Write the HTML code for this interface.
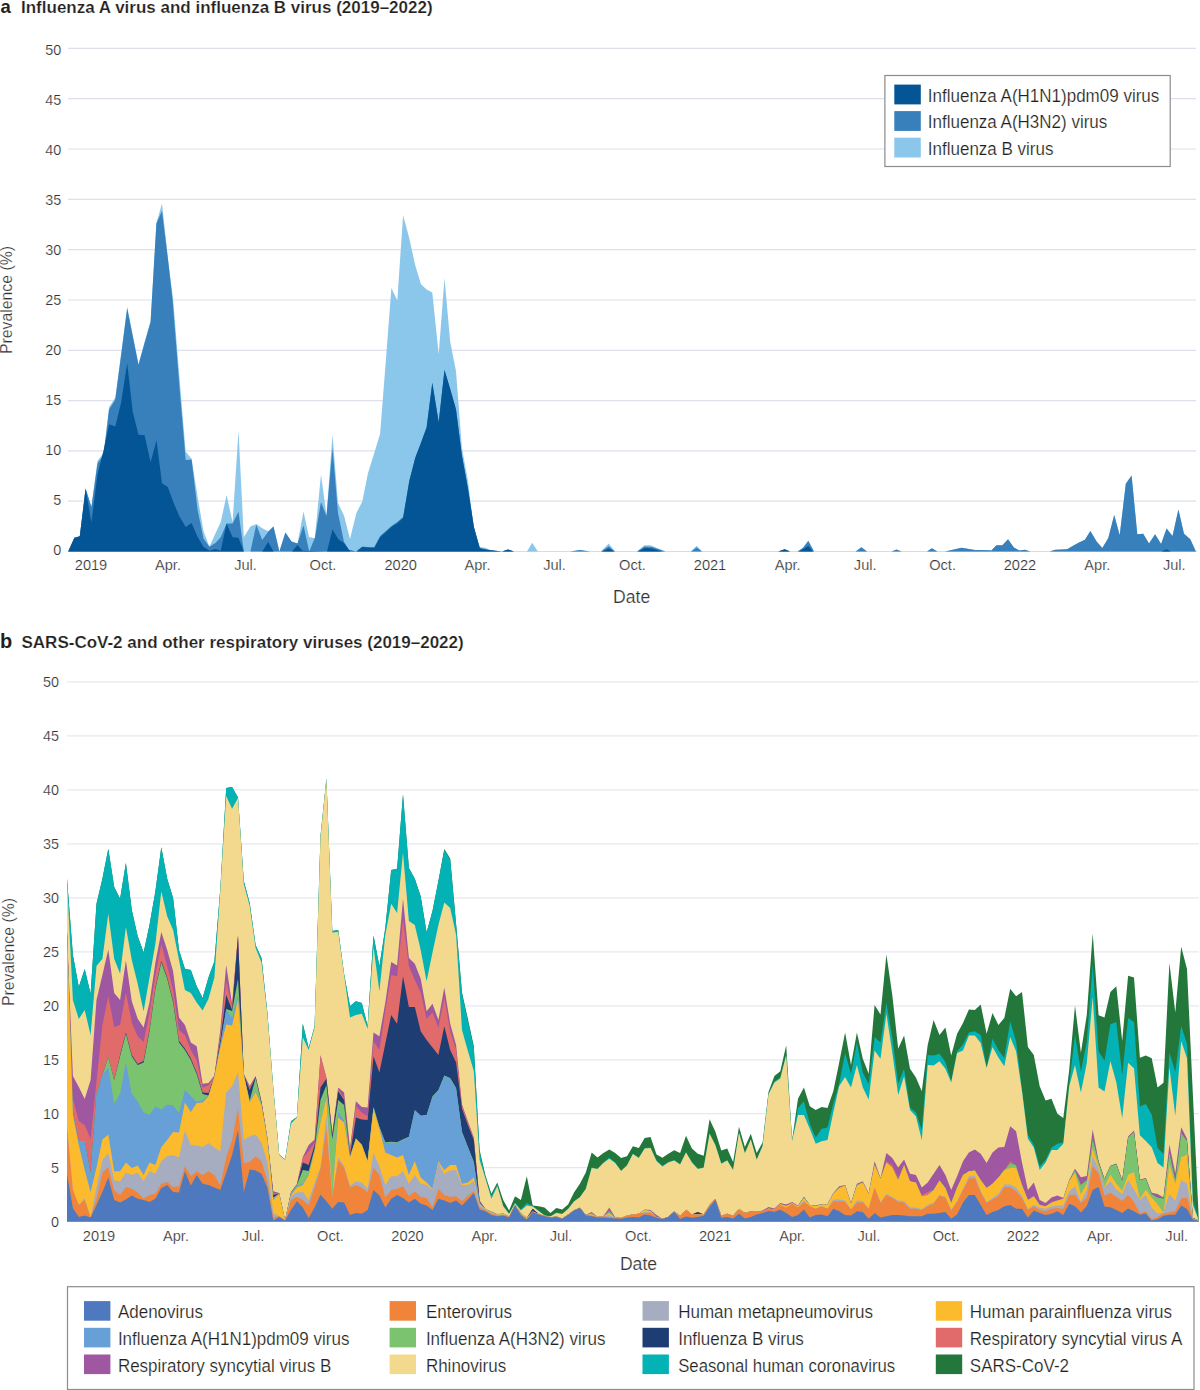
<!DOCTYPE html><html><head><meta charset="utf-8"><style>
html,body{margin:0;padding:0;background:#fff;width:1200px;height:1390px;overflow:hidden}
body{position:relative;font-family:"Liberation Sans", sans-serif;color:#231f20}
.t{position:absolute;white-space:nowrap;line-height:1}
svg{position:absolute;left:0;top:0}
text.r{stroke:#fff;stroke-width:0.2px;paint-order:fill stroke}
</style></head><body>
<svg width="1200" height="1390" viewBox="0 0 1200 1390">
<line x1="68" y1="501.2" x2="1196" y2="501.2" stroke="#dde0eb" stroke-width="1.2"/>
<line x1="68" y1="450.9" x2="1196" y2="450.9" stroke="#dde0eb" stroke-width="1.2"/>
<line x1="68" y1="400.6" x2="1196" y2="400.6" stroke="#dde0eb" stroke-width="1.2"/>
<line x1="68" y1="350.3" x2="1196" y2="350.3" stroke="#dde0eb" stroke-width="1.2"/>
<line x1="68" y1="300.0" x2="1196" y2="300.0" stroke="#dde0eb" stroke-width="1.2"/>
<line x1="68" y1="249.7" x2="1196" y2="249.7" stroke="#dde0eb" stroke-width="1.2"/>
<line x1="68" y1="199.3" x2="1196" y2="199.3" stroke="#dde0eb" stroke-width="1.2"/>
<line x1="68" y1="149.0" x2="1196" y2="149.0" stroke="#dde0eb" stroke-width="1.2"/>
<line x1="68" y1="98.7" x2="1196" y2="98.7" stroke="#dde0eb" stroke-width="1.2"/>
<line x1="68" y1="48.4" x2="1196" y2="48.4" stroke="#dde0eb" stroke-width="1.2"/>
<line x1="68" y1="551.5" x2="1197" y2="551.5" stroke="#d3deea" stroke-width="1.2"/>
<polygon points="68.2,551.6 68.2,551.6 74.4,537.8 79.8,536.2 85.6,488.4 91.4,507.0 97.5,461.0 103.7,452.6 109.1,407.0 115.3,397.5 121.3,352.0 127.2,307.0 132.7,335.0 138.5,364.0 144.6,342.0 150.6,321.0 156.4,223.0 162.0,203.4 167.8,257.0 173.2,300.0 180.5,390.0 185.7,451.7 191.6,458.8 197.6,496.8 203.5,531.2 209.4,546.7 215.4,533.6 220.7,522.3 226.6,495.0 232.6,522.3 238.5,430.4 243.8,537.2 250.4,526.5 256.3,524.1 262.2,528.3 268.2,531.2 273.5,526.5 279.4,551.6 285.4,532.4 291.5,541.5 297.5,543.5 303.5,511.5 309.0,537.0 314.8,538.2 321.0,474.5 326.5,515.0 332.5,434.5 338.0,503.0 344.0,515.5 350.0,539.0 356.4,513.0 362.3,501.6 367.9,473.4 374.3,453.0 380.1,433.8 385.8,361.0 391.4,288.1 397.3,300.4 403.1,215.3 409.3,238.3 415.2,265.2 421.0,284.3 426.6,289.4 432.3,292.5 438.7,354.6 444.5,277.9 450.2,341.8 456.0,371.2 461.9,447.8 468.0,481.0 473.9,529.6 479.8,546.9 485.4,547.8 490.0,549.9 502.0,551.6 508.0,549.5 514.0,551.6 527.0,551.6 532.2,542.8 537.8,551.6 570.0,551.6 580.0,550.0 590.0,551.6 601.0,551.6 608.7,543.5 615.0,551.6 637.0,551.6 644.5,545.2 650.5,545.2 665.5,551.6 691.0,551.6 696.7,545.8 702.0,551.6 779.0,551.6 784.7,549.2 790.0,551.6 797.5,551.6 803.0,547.5 808.3,540.5 814.0,551.6 855.7,551.6 861.4,547.3 867.0,551.6 891.7,551.6 896.5,549.5 901.5,551.6 927.0,551.6 931.8,548.2 937.5,551.6 945.0,551.6 961.5,547.7 975.0,550.0 990.0,550.2 991.0,550.8 996.5,545.3 1002.4,545.3 1008.0,539.2 1013.9,547.6 1019.4,550.4 1024.9,549.8 1030.4,551.6 1049.7,551.6 1055.2,549.8 1067.1,549.3 1073.5,545.6 1079.0,542.5 1084.9,539.8 1090.4,531.1 1096.4,541.2 1102.3,548.0 1108.3,537.9 1114.2,515.0 1119.7,535.2 1125.8,483.8 1131.6,475.6 1137.3,534.3 1143.2,533.7 1149.0,543.4 1155.1,534.3 1161.1,544.0 1166.6,528.4 1172.5,536.1 1178.4,509.5 1184.0,533.7 1190.3,539.2 1195.9,551.6 1195.9,551.6" fill="#8bc7eb"/>
<polygon points="68.2,551.6 68.2,551.6 74.4,537.8 79.8,536.2 85.6,488.4 91.4,507.0 97.5,463.6 103.7,454.4 109.1,409.5 115.3,399.5 121.3,354.0 127.2,308.2 132.7,336.0 138.5,365.1 144.6,343.0 150.6,322.0 156.4,223.6 162.0,211.0 167.8,258.0 172.6,300.0 179.7,390.0 185.7,460.0 191.6,459.4 197.6,509.9 203.5,538.4 209.4,546.7 215.4,543.1 220.7,537.2 226.6,523.5 232.6,523.5 238.5,511.7 243.8,551.6 250.4,551.6 256.3,524.7 262.2,540.1 268.2,531.8 273.5,526.5 279.4,551.6 285.4,532.4 291.5,541.5 297.5,543.5 303.5,525.5 309.2,551.6 315.0,537.5 321.0,502.0 326.5,516.0 332.5,448.0 338.0,513.0 344.0,542.0 350.0,551.6 356.0,551.6 362.3,546.5 367.9,547.0 374.3,547.0 380.1,536.0 385.8,531.0 391.4,526.0 397.3,522.0 403.1,517.0 409.3,481.0 415.2,458.0 421.0,442.7 426.6,427.4 432.3,382.7 438.7,422.3 444.5,369.9 450.2,389.0 456.0,409.5 461.9,455.5 468.0,488.7 473.9,527.0 479.8,548.0 485.4,549.3 492.0,550.3 502.0,551.6 508.0,549.5 514.0,551.6 570.0,551.6 580.0,550.0 590.0,551.6 601.0,551.6 608.7,546.2 615.0,551.6 637.0,551.6 644.5,546.5 652.0,547.0 665.5,551.6 691.0,551.6 696.7,547.5 702.0,551.6 779.0,551.6 784.7,549.2 790.0,551.6 797.5,551.6 803.0,548.0 808.3,541.0 814.0,551.6 855.7,551.6 861.4,547.3 867.0,551.6 891.7,551.6 896.5,549.5 901.5,551.6 927.0,551.6 931.8,548.2 937.5,551.6 945.0,551.6 961.5,547.7 975.0,550.0 990.0,550.2 991.0,550.8 996.5,545.3 1002.4,545.3 1008.0,539.2 1013.9,547.6 1019.4,550.4 1024.9,549.8 1030.4,551.6 1049.7,551.6 1055.2,549.8 1067.1,549.3 1073.5,545.6 1079.0,542.5 1084.9,539.8 1090.4,531.1 1096.4,541.2 1102.3,548.0 1108.3,537.9 1114.2,515.0 1119.7,535.2 1125.8,483.8 1131.6,475.6 1137.3,534.3 1143.2,533.7 1149.0,543.4 1155.1,534.3 1161.1,544.0 1166.6,528.4 1172.5,536.1 1178.4,509.5 1184.0,533.7 1190.3,539.2 1195.9,551.6 1195.9,551.6" fill="#3780bc"/>
<polygon points="68.2,551.6 68.2,551.6 74.4,537.8 79.8,536.2 85.6,488.4 91.4,522.4 97.5,474.4 103.7,449.7 109.1,424.2 115.3,426.5 121.0,403.0 127.2,363.2 132.7,411.8 138.5,434.7 144.6,435.2 150.6,462.2 156.5,440.2 162.0,483.3 167.8,486.9 173.7,503.0 179.4,516.2 185.7,527.1 191.6,523.0 197.6,537.0 203.5,546.7 209.4,550.8 215.4,549.0 220.7,550.8 226.6,523.5 232.6,537.2 238.5,537.8 243.8,551.6 262.2,551.6 268.2,541.9 273.5,551.6 290.0,551.6 292.0,551.6 297.5,545.0 302.5,550.8 327.0,551.6 332.5,529.5 338.5,539.5 344.0,543.0 349.0,550.0 356.4,551.6 362.3,547.0 367.9,547.5 374.3,548.0 380.1,537.2 385.8,532.2 391.4,527.0 397.3,523.2 403.1,518.1 409.3,481.0 415.2,458.0 421.0,442.7 426.6,427.4 432.3,382.7 438.7,422.3 444.5,369.9 450.2,389.0 456.0,409.5 461.9,455.5 468.0,488.7 473.9,527.0 479.8,548.2 485.4,549.5 492.0,550.5 502.0,551.6 508.0,549.5 514.0,551.6 602.0,551.6 608.7,548.6 614.0,551.6 638.0,551.6 645.0,548.0 652.0,548.5 662.0,551.6 778.0,551.6 784.7,549.2 790.0,551.6 799.0,551.6 808.3,546.0 813.0,551.6 1161.5,551.6 1166.4,549.3 1170.7,551.6 1197.0,551.6 1197.0,551.6" fill="#035596"/>
<text x="61.2" y="554.6" text-anchor="end" font-family='"Liberation Sans", sans-serif' class="r" font-size="14.4" fill="#333">0</text>
<text x="61.2" y="504.6" text-anchor="end" font-family='"Liberation Sans", sans-serif' class="r" font-size="14.4" fill="#333">5</text>
<text x="61.2" y="454.6" text-anchor="end" font-family='"Liberation Sans", sans-serif' class="r" font-size="14.4" fill="#333">10</text>
<text x="61.2" y="404.6" text-anchor="end" font-family='"Liberation Sans", sans-serif' class="r" font-size="14.4" fill="#333">15</text>
<text x="61.2" y="354.6" text-anchor="end" font-family='"Liberation Sans", sans-serif' class="r" font-size="14.4" fill="#333">20</text>
<text x="61.2" y="304.6" text-anchor="end" font-family='"Liberation Sans", sans-serif' class="r" font-size="14.4" fill="#333">25</text>
<text x="61.2" y="254.6" text-anchor="end" font-family='"Liberation Sans", sans-serif' class="r" font-size="14.4" fill="#333">30</text>
<text x="61.2" y="204.6" text-anchor="end" font-family='"Liberation Sans", sans-serif' class="r" font-size="14.4" fill="#333">35</text>
<text x="61.2" y="154.6" text-anchor="end" font-family='"Liberation Sans", sans-serif' class="r" font-size="14.4" fill="#333">40</text>
<text x="61.2" y="104.6" text-anchor="end" font-family='"Liberation Sans", sans-serif' class="r" font-size="14.4" fill="#333">45</text>
<text x="61.2" y="54.6" text-anchor="end" font-family='"Liberation Sans", sans-serif' class="r" font-size="14.4" fill="#333">50</text>
<rect x="884.9" y="75.5" width="285.3" height="91" fill="#fff" stroke="#8c8c8c" stroke-width="1.2"/>
<rect x="894.3" y="84.6" width="26.5" height="19.8" fill="#035596"/>
<text x="927.8" y="101.8" font-family='"Liberation Sans", sans-serif' class="r" font-size="17.6" textLength="231.5" lengthAdjust="spacingAndGlyphs" fill="#231f20">Influenza A(H1N1)pdm09 virus</text>
<rect x="894.3" y="111.1" width="26.5" height="19.8" fill="#3780bc"/>
<text x="927.8" y="128.3" font-family='"Liberation Sans", sans-serif' class="r" font-size="17.6" textLength="179.5" lengthAdjust="spacingAndGlyphs" fill="#231f20">Influenza A(H3N2) virus</text>
<rect x="894.3" y="137.7" width="26.5" height="19.8" fill="#8bc7eb"/>
<text x="927.8" y="154.9" font-family='"Liberation Sans", sans-serif' class="r" font-size="17.6" textLength="125.7" lengthAdjust="spacingAndGlyphs" fill="#231f20">Influenza B virus</text>
<text x="91" y="570.2" text-anchor="middle" font-family='"Liberation Sans", sans-serif' class="r" font-size="14.6" fill="#333">2019</text>
<text x="168" y="570.2" text-anchor="middle" font-family='"Liberation Sans", sans-serif' class="r" font-size="14.6" fill="#333">Apr.</text>
<text x="245.5" y="570.2" text-anchor="middle" font-family='"Liberation Sans", sans-serif' class="r" font-size="14.6" fill="#333">Jul.</text>
<text x="323" y="570.2" text-anchor="middle" font-family='"Liberation Sans", sans-serif' class="r" font-size="14.6" fill="#333">Oct.</text>
<text x="400.7" y="570.2" text-anchor="middle" font-family='"Liberation Sans", sans-serif' class="r" font-size="14.6" fill="#333">2020</text>
<text x="477.5" y="570.2" text-anchor="middle" font-family='"Liberation Sans", sans-serif' class="r" font-size="14.6" fill="#333">Apr.</text>
<text x="554.5" y="570.2" text-anchor="middle" font-family='"Liberation Sans", sans-serif' class="r" font-size="14.6" fill="#333">Jul.</text>
<text x="632.5" y="570.2" text-anchor="middle" font-family='"Liberation Sans", sans-serif' class="r" font-size="14.6" fill="#333">Oct.</text>
<text x="710" y="570.2" text-anchor="middle" font-family='"Liberation Sans", sans-serif' class="r" font-size="14.6" fill="#333">2021</text>
<text x="787.7" y="570.2" text-anchor="middle" font-family='"Liberation Sans", sans-serif' class="r" font-size="14.6" fill="#333">Apr.</text>
<text x="865.2" y="570.2" text-anchor="middle" font-family='"Liberation Sans", sans-serif' class="r" font-size="14.6" fill="#333">Jul.</text>
<text x="942.6" y="570.2" text-anchor="middle" font-family='"Liberation Sans", sans-serif' class="r" font-size="14.6" fill="#333">Oct.</text>
<text x="1019.9" y="570.2" text-anchor="middle" font-family='"Liberation Sans", sans-serif' class="r" font-size="14.6" fill="#333">2022</text>
<text x="1097.3" y="570.2" text-anchor="middle" font-family='"Liberation Sans", sans-serif' class="r" font-size="14.6" fill="#333">Apr.</text>
<text x="1174.3" y="570.2" text-anchor="middle" font-family='"Liberation Sans", sans-serif' class="r" font-size="14.6" fill="#333">Jul.</text>
<text x="631.6" y="603.1" text-anchor="middle" font-family='"Liberation Sans", sans-serif' class="r" font-size="17.6" fill="#333">Date</text>
<text transform="translate(12.3,300) rotate(-90)" text-anchor="middle" font-family='"Liberation Sans", sans-serif' class="r" font-size="15.8" fill="#333">Prevalence (%)</text>
<text x="0.6" y="12.6" font-family='"Liberation Sans", sans-serif' font-size="18.5" font-weight="700" fill="#231f20">a</text>
<text x="21" y="12.5" class="r" font-family='"Liberation Sans", sans-serif' font-size="17" font-weight="700" fill="#231f20">Influenza A virus and influenza B virus (2019–2022)</text>
<text x="0" y="647.8" font-family='"Liberation Sans", sans-serif' font-size="20" font-weight="700" fill="#231f20">b</text>
<text x="21.5" y="647.8" class="r" font-family='"Liberation Sans", sans-serif' font-size="17" font-weight="700" fill="#231f20">SARS-CoV-2 and other respiratory viruses (2019–2022)</text>
<line x1="67" y1="1167.7" x2="1199" y2="1167.7" stroke="#e5e8f0" stroke-width="1.3"/>
<line x1="67" y1="1113.7" x2="1199" y2="1113.7" stroke="#e5e8f0" stroke-width="1.3"/>
<line x1="67" y1="1059.8" x2="1199" y2="1059.8" stroke="#e5e8f0" stroke-width="1.3"/>
<line x1="67" y1="1005.8" x2="1199" y2="1005.8" stroke="#e5e8f0" stroke-width="1.3"/>
<line x1="67" y1="951.8" x2="1199" y2="951.8" stroke="#e5e8f0" stroke-width="1.3"/>
<line x1="67" y1="897.8" x2="1199" y2="897.8" stroke="#e5e8f0" stroke-width="1.3"/>
<line x1="67" y1="843.8" x2="1199" y2="843.8" stroke="#e5e8f0" stroke-width="1.3"/>
<line x1="67" y1="789.9" x2="1199" y2="789.9" stroke="#e5e8f0" stroke-width="1.3"/>
<line x1="67" y1="735.9" x2="1199" y2="735.9" stroke="#e5e8f0" stroke-width="1.3"/>
<line x1="67" y1="681.9" x2="1199" y2="681.9" stroke="#e5e8f0" stroke-width="1.3"/>
<text x="59.1" y="1227.0" text-anchor="end" font-family='"Liberation Sans", sans-serif' class="r" font-size="14.4" fill="#333">0</text>
<text x="59.1" y="1173.0" text-anchor="end" font-family='"Liberation Sans", sans-serif' class="r" font-size="14.4" fill="#333">5</text>
<text x="59.1" y="1119.1" text-anchor="end" font-family='"Liberation Sans", sans-serif' class="r" font-size="14.4" fill="#333">10</text>
<text x="59.1" y="1065.1" text-anchor="end" font-family='"Liberation Sans", sans-serif' class="r" font-size="14.4" fill="#333">15</text>
<text x="59.1" y="1011.2" text-anchor="end" font-family='"Liberation Sans", sans-serif' class="r" font-size="14.4" fill="#333">20</text>
<text x="59.1" y="957.2" text-anchor="end" font-family='"Liberation Sans", sans-serif' class="r" font-size="14.4" fill="#333">25</text>
<text x="59.1" y="903.2" text-anchor="end" font-family='"Liberation Sans", sans-serif' class="r" font-size="14.4" fill="#333">30</text>
<text x="59.1" y="849.3" text-anchor="end" font-family='"Liberation Sans", sans-serif' class="r" font-size="14.4" fill="#333">35</text>
<text x="59.1" y="795.3" text-anchor="end" font-family='"Liberation Sans", sans-serif' class="r" font-size="14.4" fill="#333">40</text>
<text x="59.1" y="741.4" text-anchor="end" font-family='"Liberation Sans", sans-serif' class="r" font-size="14.4" fill="#333">45</text>
<text x="59.1" y="687.4" text-anchor="end" font-family='"Liberation Sans", sans-serif' class="r" font-size="14.4" fill="#333">50</text>
<polygon points="67.0,1221.5 67.0,878.7 72.9,955.0 78.8,987.0 84.7,969.0 90.6,993.7 96.5,903.7 102.4,878.7 108.3,848.7 114.2,886.9 120.1,898.7 125.9,863.1 131.8,910.0 137.7,936.2 143.6,952.5 149.5,925.0 155.4,891.2 161.3,847.2 167.2,878.7 173.1,898.1 179.0,950.0 184.9,968.7 190.8,970.0 196.7,986.2 202.6,998.1 208.5,977.5 214.4,961.2 220.3,889.0 226.2,788.0 232.1,786.9 238.0,797.5 243.8,881.0 249.7,903.0 255.6,945.0 261.5,958.0 267.4,1013.0 273.3,1088.0 279.2,1154.5 285.1,1159.5 291.0,1121.2 296.9,1117.0 302.8,1023.7 308.7,1048.0 314.6,1026.0 320.5,836.0 326.4,778.5 332.3,931.0 338.2,930.0 344.1,974.0 350.0,1006.0 355.9,1001.2 361.8,1003.0 367.6,1026.0 373.5,935.6 379.4,966.2 385.3,928.0 391.2,870.0 397.1,868.7 403.0,794.4 408.9,868.0 414.8,878.7 420.7,896.2 426.6,932.5 432.5,911.0 438.4,881.0 444.3,849.0 450.2,858.5 456.1,923.5 462.0,992.5 467.9,1019.0 473.8,1046.0 479.6,1150.0 485.5,1175.5 491.4,1193.7 497.3,1182.5 503.2,1200.0 509.1,1210.6 515.0,1196.2 520.9,1200.0 526.8,1176.2 532.7,1205.6 538.6,1206.2 544.5,1207.5 550.4,1213.1 556.3,1208.1 562.2,1209.4 568.1,1204.4 574.0,1192.5 579.9,1183.7 585.8,1172.5 591.7,1152.5 597.5,1157.5 603.4,1153.1 609.3,1149.4 615.2,1153.1 621.1,1158.1 627.0,1156.2 632.9,1146.2 638.8,1148.1 644.7,1138.1 650.6,1136.9 656.5,1154.5 662.4,1157.8 668.3,1153.8 674.2,1150.2 680.1,1153.1 686.0,1135.8 691.9,1148.5 697.8,1153.8 703.7,1155.8 709.6,1119.2 715.4,1131.8 721.3,1150.5 727.2,1148.5 733.1,1162.0 739.0,1126.8 744.9,1147.0 750.8,1133.8 756.7,1153.0 762.6,1142.5 768.5,1091.9 774.4,1075.9 780.3,1071.3 786.2,1045.3 792.1,1140.0 798.0,1098.7 803.9,1087.5 809.8,1106.2 815.7,1110.0 821.6,1106.9 827.5,1108.1 833.3,1091.2 839.2,1062.5 845.1,1032.5 851.0,1065.0 856.9,1032.5 862.8,1058.7 868.7,1073.7 874.6,1005.0 880.5,1014.4 886.4,954.4 892.3,995.0 898.2,1048.7 904.1,1035.6 910.0,1068.7 915.9,1077.5 921.8,1091.2 927.7,1045.0 933.6,1020.0 939.5,1035.0 945.4,1027.5 951.2,1055.6 957.1,1033.7 963.0,1023.1 968.9,1009.4 974.8,1010.0 980.7,1004.4 986.6,1033.7 992.5,1013.1 998.4,1025.0 1004.3,1018.1 1010.2,988.7 1016.1,996.2 1022.0,991.9 1027.9,1046.9 1033.8,1055.0 1039.7,1086.2 1045.6,1100.6 1051.5,1098.7 1057.4,1113.7 1063.3,1118.1 1069.2,1070.0 1075.0,1005.6 1080.9,1052.7 1086.8,1014.8 1092.7,933.4 1098.6,1015.3 1104.5,1017.6 1110.4,991.9 1116.3,986.3 1122.2,1041.0 1128.1,975.7 1134.0,977.4 1139.9,1057.7 1145.8,1055.5 1151.7,1058.3 1157.6,1087.5 1163.5,1082.8 1169.4,962.9 1175.3,1012.5 1181.2,946.8 1187.0,969.0 1192.9,1095.0 1198.8,1219.5 1198.8,1221.5" fill="#23773b"/>
<polygon points="67.0,1221.5 67.0,878.7 72.9,955.0 78.8,987.0 84.7,969.0 90.6,993.7 96.5,903.7 102.4,878.7 108.3,848.7 114.2,886.9 120.1,898.7 125.9,863.1 131.8,910.0 137.7,936.2 143.6,952.5 149.5,925.0 155.4,891.2 161.3,847.2 167.2,878.7 173.1,898.1 179.0,950.0 184.9,968.7 190.8,970.0 196.7,986.2 202.6,998.1 208.5,977.5 214.4,961.2 220.3,889.0 226.2,788.0 232.1,786.9 238.0,797.5 243.8,881.0 249.7,903.0 255.6,945.0 261.5,958.0 267.4,1013.0 273.3,1088.0 279.2,1154.5 285.1,1159.5 291.0,1121.2 296.9,1117.0 302.8,1023.7 308.7,1048.0 314.6,1026.0 320.5,836.0 326.4,778.5 332.3,931.0 338.2,930.0 344.1,974.0 350.0,1006.0 355.9,1001.2 361.8,1003.0 367.6,1026.0 373.5,935.6 379.4,966.2 385.3,928.0 391.2,870.0 397.1,868.7 403.0,794.4 408.9,868.0 414.8,878.7 420.7,896.2 426.6,932.5 432.5,911.0 438.4,881.0 444.3,850.0 450.2,859.4 456.1,925.0 462.0,994.0 467.9,1021.0 473.8,1048.0 479.6,1152.0 485.5,1177.5 491.4,1196.0 497.3,1184.5 503.2,1205.5 509.1,1213.5 515.0,1202.5 520.9,1209.4 526.8,1203.1 532.7,1206.0 538.6,1210.6 544.5,1215.0 550.4,1216.2 556.3,1212.5 562.2,1213.7 568.1,1208.7 574.0,1201.2 579.9,1196.9 585.8,1188.7 591.7,1167.5 597.5,1168.7 603.4,1162.5 609.3,1157.5 615.2,1162.5 621.1,1170.6 627.0,1165.0 632.9,1153.7 638.8,1157.5 644.7,1148.1 650.6,1147.5 656.5,1160.5 662.4,1165.8 668.3,1162.0 674.2,1160.0 680.1,1164.0 686.0,1152.0 691.9,1162.0 697.8,1168.6 703.7,1167.3 709.6,1133.3 715.4,1144.7 721.3,1163.3 727.2,1160.0 733.1,1169.8 739.0,1132.4 744.9,1153.0 750.8,1139.2 756.7,1159.5 762.6,1145.7 768.5,1093.5 774.4,1081.5 780.3,1077.5 786.2,1054.5 792.1,1140.5 798.0,1108.0 803.9,1101.2 809.8,1123.7 815.7,1137.5 821.6,1128.7 827.5,1127.5 833.3,1103.7 839.2,1083.7 845.1,1053.1 851.0,1073.7 856.9,1042.5 862.8,1072.5 868.7,1084.0 874.6,1036.9 880.5,1042.5 886.4,1003.1 892.3,1037.5 898.2,1083.7 904.1,1068.7 910.0,1107.5 915.9,1112.5 921.8,1130.0 927.7,1055.0 933.6,1055.6 939.5,1053.7 945.4,1061.9 951.2,1081.0 957.1,1051.2 963.0,1044.4 968.9,1032.5 974.8,1031.2 980.7,1035.0 986.6,1067.5 992.5,1038.7 998.4,1050.0 1004.3,1058.1 1010.2,1021.2 1016.1,1041.2 1022.0,1090.0 1027.9,1135.0 1033.8,1145.0 1039.7,1166.2 1045.6,1160.0 1051.5,1147.5 1057.4,1143.7 1063.3,1142.5 1069.2,1083.7 1075.0,1035.0 1080.9,1071.6 1086.8,1041.5 1092.7,964.6 1098.6,1051.6 1104.5,1060.5 1110.4,1024.2 1116.3,1022.0 1122.2,1075.0 1128.1,1018.1 1134.0,1022.0 1139.9,1106.5 1145.8,1104.1 1151.7,1114.5 1157.6,1147.9 1163.5,1153.7 1169.4,1052.7 1175.3,1072.0 1181.2,1025.9 1187.0,1043.8 1192.9,1200.0 1198.8,1220.2 1198.8,1221.5" fill="#03b2b5"/>
<polygon points="67.0,1221.5 67.0,881.0 72.9,1000.0 78.8,1019.0 84.7,1010.0 90.6,1035.0 96.5,966.0 102.4,958.7 108.3,913.7 114.2,958.7 120.1,973.7 125.9,927.0 131.8,960.0 137.7,983.7 143.6,1011.2 149.5,977.5 155.4,943.7 161.3,891.2 167.2,916.2 173.1,930.0 179.0,960.0 184.9,990.0 190.8,993.1 196.7,1002.5 202.6,1010.6 208.5,998.7 214.4,977.5 220.3,891.0 226.2,796.0 232.1,808.7 238.0,798.0 243.8,884.0 249.7,906.0 255.6,948.0 261.5,962.5 267.4,1015.0 273.3,1088.7 279.2,1155.0 285.1,1160.0 291.0,1123.7 296.9,1117.5 302.8,1037.5 308.7,1050.0 314.6,1027.5 320.5,837.5 326.4,778.7 332.3,932.5 338.2,932.0 344.1,975.0 350.0,1017.5 355.9,1015.0 361.8,1013.7 367.6,1028.7 373.5,946.9 379.4,991.2 385.3,935.0 391.2,903.7 397.1,913.0 403.0,852.5 408.9,921.0 414.8,925.0 420.7,950.0 426.6,981.2 432.5,952.5 438.4,925.0 444.3,902.5 450.2,908.0 456.1,935.0 462.0,1030.0 467.9,1051.0 473.8,1071.0 479.6,1160.0 485.5,1178.7 491.4,1198.7 497.3,1186.2 503.2,1206.2 509.1,1214.0 515.0,1203.5 520.9,1210.5 526.8,1205.6 532.7,1206.5 538.6,1211.0 544.5,1215.5 550.4,1216.5 556.3,1213.0 562.2,1214.0 568.1,1209.0 574.0,1201.5 579.9,1197.2 585.8,1189.0 591.7,1168.0 597.5,1169.0 603.4,1163.1 609.3,1158.7 615.2,1163.0 621.1,1171.0 627.0,1165.5 632.9,1154.0 638.8,1158.0 644.7,1148.5 650.6,1148.0 656.5,1161.1 662.4,1166.4 668.3,1162.5 674.2,1160.5 680.1,1164.5 686.0,1152.5 691.9,1162.5 697.8,1169.1 703.7,1167.8 709.6,1133.8 715.4,1145.2 721.3,1163.8 727.2,1160.5 733.1,1170.1 739.0,1132.7 744.9,1153.3 750.8,1139.5 756.7,1159.8 762.6,1146.0 768.5,1094.6 774.4,1082.6 780.3,1078.6 786.2,1055.3 792.1,1141.0 798.0,1115.0 803.9,1115.0 809.8,1128.7 815.7,1143.7 821.6,1141.2 827.5,1140.0 833.3,1112.5 839.2,1086.0 845.1,1076.9 851.0,1087.5 856.9,1065.0 862.8,1087.5 868.7,1099.4 874.6,1050.6 880.5,1058.7 886.4,1013.7 892.3,1052.5 898.2,1095.0 904.1,1076.2 910.0,1110.0 915.9,1116.2 921.8,1140.0 927.7,1065.0 933.6,1065.6 939.5,1061.2 945.4,1068.7 951.2,1082.5 957.1,1053.1 963.0,1050.6 968.9,1035.6 974.8,1035.6 980.7,1043.1 986.6,1068.0 992.5,1046.9 998.4,1057.5 1004.3,1066.2 1010.2,1036.9 1016.1,1051.2 1022.0,1091.2 1027.9,1138.7 1033.8,1147.5 1039.7,1170.0 1045.6,1162.5 1051.5,1150.0 1057.4,1150.0 1063.3,1143.7 1069.2,1086.2 1075.0,1065.0 1080.9,1092.6 1086.8,1063.0 1092.7,996.9 1098.6,1087.5 1104.5,1091.5 1110.4,1061.0 1116.3,1082.3 1122.2,1118.0 1128.1,1062.7 1134.0,1068.3 1139.9,1135.2 1145.8,1141.0 1151.7,1147.3 1157.6,1162.9 1163.5,1167.5 1169.4,1067.0 1175.3,1115.7 1181.2,1041.0 1187.0,1058.3 1192.9,1205.0 1198.8,1220.4 1198.8,1221.5" fill="#f3d98e"/>
<polygon points="67.0,1221.5 67.0,932.0 72.9,1076.0 78.8,1087.0 84.7,1099.0 90.6,1080.0 96.5,1000.0 102.4,975.0 108.3,949.4 114.2,993.1 120.1,1000.0 125.9,960.6 131.8,1001.2 137.7,1018.7 143.6,1027.5 149.5,1002.5 155.4,962.5 161.3,931.9 167.2,950.0 173.1,971.2 179.0,1017.5 184.9,1025.0 190.8,1042.5 196.7,1046.2 202.6,1083.7 208.5,1083.0 214.4,1075.5 220.3,1030.0 226.2,965.0 232.1,1004.0 238.0,935.0 243.8,1074.0 249.7,1086.0 255.6,1076.0 261.5,1101.0 267.4,1137.5 273.3,1191.2 279.2,1193.0 285.1,1220.0 291.0,1192.0 296.9,1184.0 302.8,1157.0 308.7,1145.0 314.6,1139.4 320.5,1055.0 326.4,1077.5 332.3,1133.0 338.2,1087.5 344.1,1092.5 350.0,1148.0 355.9,1101.2 361.8,1106.9 367.6,1107.5 373.5,1032.5 379.4,1036.2 385.3,1002.5 391.2,961.9 397.1,965.6 403.0,898.7 408.9,958.0 414.8,963.7 420.7,978.7 426.6,1011.2 432.5,1003.7 438.4,1020.0 444.3,987.5 450.2,1023.7 456.1,1045.0 462.0,1104.4 467.9,1121.2 473.8,1137.5 479.6,1200.5 485.5,1209.0 491.4,1211.5 497.3,1214.0 503.2,1213.5 509.1,1216.5 515.0,1205.0 520.9,1213.0 526.8,1218.0 532.7,1208.7 538.6,1214.0 544.5,1216.0 550.4,1217.2 556.3,1216.6 562.2,1218.4 568.1,1214.6 574.0,1210.2 579.9,1207.7 585.8,1215.0 591.7,1211.9 597.5,1217.0 603.4,1216.2 609.3,1207.5 615.2,1217.5 621.1,1218.1 627.0,1215.6 632.9,1214.4 638.8,1213.7 644.7,1209.4 650.6,1210.0 656.5,1215.0 662.4,1218.7 668.3,1216.7 674.2,1211.4 680.1,1215.7 686.0,1209.7 691.9,1214.4 697.8,1212.0 703.7,1214.4 709.6,1205.0 715.4,1199.0 721.3,1215.7 727.2,1213.7 733.1,1215.7 739.0,1209.0 744.9,1213.0 750.8,1211.0 756.7,1211.7 762.6,1210.5 768.5,1207.0 774.4,1208.5 780.3,1203.0 786.2,1204.5 792.1,1202.0 798.0,1205.5 803.9,1196.9 809.8,1205.0 815.7,1205.5 821.6,1204.0 827.5,1204.0 833.3,1193.0 839.2,1186.2 845.1,1185.0 851.0,1203.0 856.9,1183.7 862.8,1181.2 868.7,1193.0 874.6,1161.2 880.5,1178.0 886.4,1153.1 892.3,1158.1 898.2,1167.5 904.1,1159.4 910.0,1173.7 915.9,1175.0 921.8,1187.5 927.7,1182.5 933.6,1173.7 939.5,1165.0 945.4,1175.0 951.2,1190.0 957.1,1176.2 963.0,1161.2 968.9,1152.5 974.8,1149.4 980.7,1153.7 986.6,1163.1 992.5,1152.5 998.4,1147.5 1004.3,1146.9 1010.2,1126.2 1016.1,1131.2 1022.0,1162.5 1027.9,1190.0 1033.8,1182.5 1039.7,1200.0 1045.6,1203.1 1051.5,1197.5 1057.4,1195.6 1063.3,1198.1 1069.2,1180.0 1075.0,1168.7 1080.9,1177.3 1086.8,1176.1 1092.7,1129.5 1098.6,1161.0 1104.5,1178.5 1110.4,1165.8 1116.3,1163.5 1122.2,1180.0 1128.1,1136.4 1134.0,1130.6 1139.9,1179.6 1145.8,1178.0 1151.7,1192.8 1157.6,1194.0 1163.5,1197.4 1169.4,1144.4 1175.3,1173.2 1181.2,1127.2 1187.0,1138.7 1192.9,1217.5 1198.8,1220.6 1198.8,1221.5" fill="#9e57a0"/>
<polygon points="67.0,1221.5 67.0,932.0 72.9,1099.0 78.8,1121.0 84.7,1125.0 90.6,1139.0 96.5,1081.0 102.4,1025.0 108.3,996.2 114.2,1026.9 120.1,1025.0 125.9,992.5 131.8,1022.5 137.7,1036.2 143.6,1041.9 149.5,1012.5 155.4,975.0 161.3,943.7 167.2,966.2 173.1,990.0 179.0,1030.0 184.9,1035.0 190.8,1050.0 196.7,1060.0 202.6,1087.5 208.5,1085.5 214.4,1076.0 220.3,1035.0 226.2,981.2 232.1,1006.0 238.0,935.5 243.8,1074.5 249.7,1088.0 255.6,1076.5 261.5,1102.0 267.4,1139.0 273.3,1193.0 279.2,1193.5 285.1,1220.3 291.0,1192.5 296.9,1185.0 302.8,1158.0 308.7,1151.0 314.6,1142.5 320.5,1056.0 326.4,1078.0 332.3,1134.0 338.2,1088.7 344.1,1098.0 350.0,1150.0 355.9,1106.2 361.8,1112.5 367.6,1116.2 373.5,1041.2 379.4,1050.0 385.3,1010.0 391.2,975.0 397.1,976.2 403.0,918.7 408.9,966.0 414.8,980.0 420.7,992.5 426.6,1018.7 432.5,1012.5 438.4,1027.5 444.3,997.5 450.2,1031.2 456.1,1050.0 462.0,1106.2 467.9,1122.5 473.8,1138.0 479.6,1200.8 485.5,1209.4 491.4,1211.9 497.3,1214.4 503.2,1213.7 509.1,1216.5 515.0,1205.0 520.9,1213.0 526.8,1218.0 532.7,1208.7 538.6,1214.0 544.5,1216.0 550.4,1217.2 556.3,1216.6 562.2,1218.4 568.1,1214.6 574.0,1210.2 579.9,1207.7 585.8,1215.0 591.7,1212.5 597.5,1217.0 603.4,1216.2 609.3,1209.0 615.2,1217.5 621.1,1218.1 627.0,1215.6 632.9,1214.4 638.8,1213.7 644.7,1210.0 650.6,1211.0 656.5,1217.0 662.4,1218.7 668.3,1216.7 674.2,1211.4 680.1,1215.7 686.0,1209.7 691.9,1214.4 697.8,1212.0 703.7,1214.4 709.6,1205.0 715.4,1199.0 721.3,1215.7 727.2,1213.7 733.1,1215.7 739.0,1209.0 744.9,1213.0 750.8,1211.7 756.7,1211.7 762.6,1211.7 768.5,1208.4 774.4,1209.7 780.3,1204.0 786.2,1206.0 792.1,1203.0 798.0,1206.2 803.9,1196.9 809.8,1205.0 815.7,1206.2 821.6,1204.4 827.5,1204.4 833.3,1193.7 839.2,1187.0 845.1,1185.6 851.0,1203.7 856.9,1184.5 862.8,1182.5 868.7,1193.7 874.6,1165.0 880.5,1178.7 886.4,1161.0 892.3,1165.0 898.2,1178.0 904.1,1165.0 910.0,1181.2 915.9,1182.5 921.8,1195.0 927.7,1192.0 933.6,1190.0 939.5,1180.6 945.4,1188.1 951.2,1203.1 957.1,1187.5 963.0,1175.0 968.9,1171.2 974.8,1170.6 980.7,1180.0 986.6,1188.1 992.5,1183.7 998.4,1177.5 1004.3,1170.0 1010.2,1161.2 1016.1,1165.0 1022.0,1185.0 1027.9,1200.0 1033.8,1196.2 1039.7,1205.0 1045.6,1206.2 1051.5,1202.5 1057.4,1200.6 1063.3,1198.7 1069.2,1181.0 1075.0,1170.0 1080.9,1184.7 1086.8,1180.0 1092.7,1138.7 1098.6,1162.0 1104.5,1179.0 1110.4,1166.3 1116.3,1164.0 1122.2,1180.7 1128.1,1137.5 1134.0,1131.8 1139.9,1180.1 1145.8,1178.4 1151.7,1194.0 1157.6,1197.4 1163.5,1198.6 1169.4,1152.5 1175.3,1180.0 1181.2,1133.0 1187.0,1141.0 1192.9,1218.0 1198.8,1220.6 1198.8,1221.5" fill="#e06b6a"/>
<polygon points="67.0,1221.5 67.0,932.0 72.9,1112.5 78.8,1141.0 84.7,1141.0 90.6,1173.0 96.5,1094.0 102.4,1075.0 108.3,1057.5 114.2,1080.0 120.1,1055.0 125.9,1032.5 131.8,1055.0 137.7,1064.0 143.6,1061.0 149.5,1030.0 155.4,987.5 161.3,961.0 167.2,977.5 173.1,1001.0 179.0,1041.0 184.9,1048.5 190.8,1058.5 196.7,1072.5 202.6,1092.5 208.5,1093.0 214.4,1076.5 220.3,1040.0 226.2,995.0 232.1,1010.0 238.0,936.2 243.8,1074.5 249.7,1090.0 255.6,1077.0 261.5,1102.5 267.4,1139.0 273.3,1195.0 279.2,1193.5 285.1,1220.3 291.0,1192.5 296.9,1185.0 302.8,1162.5 308.7,1165.0 314.6,1145.0 320.5,1087.5 326.4,1078.7 332.3,1135.0 338.2,1091.2 344.1,1100.0 350.0,1155.0 355.9,1117.5 361.8,1119.4 367.6,1120.0 373.5,1056.2 379.4,1072.5 385.3,1043.7 391.2,1015.0 397.1,1023.7 403.0,976.2 408.9,1006.9 414.8,1006.9 420.7,1031.2 426.6,1040.0 432.5,1047.5 438.4,1055.0 444.3,1026.2 450.2,1050.0 456.1,1062.5 462.0,1108.7 467.9,1125.0 473.8,1140.0 479.6,1201.2 485.5,1209.4 491.4,1211.9 497.3,1214.4 503.2,1213.7 509.1,1216.5 515.0,1205.0 520.9,1213.0 526.8,1218.0 532.7,1208.7 538.6,1214.0 544.5,1216.0 550.4,1217.2 556.3,1216.6 562.2,1218.4 568.1,1214.6 574.0,1210.2 579.9,1207.7 585.8,1215.0 591.7,1214.0 597.5,1217.0 603.4,1216.2 609.3,1210.0 615.2,1217.5 621.1,1218.1 627.0,1215.6 632.9,1214.4 638.8,1213.7 644.7,1210.0 650.6,1211.0 656.5,1217.0 662.4,1218.7 668.3,1216.7 674.2,1211.4 680.1,1215.7 686.0,1209.7 691.9,1214.4 697.8,1212.0 703.7,1214.4 709.6,1205.0 715.4,1199.0 721.3,1215.7 727.2,1213.7 733.1,1215.7 739.0,1209.0 744.9,1213.0 750.8,1211.7 756.7,1211.7 762.6,1211.7 768.5,1208.4 774.4,1209.7 780.3,1204.0 786.2,1206.0 792.1,1203.0 798.0,1206.2 803.9,1196.9 809.8,1205.0 815.7,1206.2 821.6,1204.4 827.5,1204.4 833.3,1193.7 839.2,1188.1 845.1,1185.6 851.0,1203.7 856.9,1185.0 862.8,1182.5 868.7,1193.7 874.6,1165.0 880.5,1178.7 886.4,1162.5 892.3,1167.5 898.2,1180.0 904.1,1165.0 910.0,1181.2 915.9,1182.5 921.8,1196.2 927.7,1195.0 933.6,1190.0 939.5,1180.6 945.4,1188.1 951.2,1203.1 957.1,1187.5 963.0,1175.0 968.9,1171.2 974.8,1170.6 980.7,1180.0 986.6,1188.1 992.5,1183.7 998.4,1177.5 1004.3,1170.0 1010.2,1163.1 1016.1,1165.0 1022.0,1185.0 1027.9,1200.0 1033.8,1196.2 1039.7,1205.0 1045.6,1206.2 1051.5,1202.5 1057.4,1200.6 1063.3,1198.7 1069.2,1181.0 1075.0,1170.0 1080.9,1184.7 1086.8,1180.0 1092.7,1138.7 1098.6,1162.0 1104.5,1179.0 1110.4,1166.3 1116.3,1164.0 1122.2,1180.7 1128.1,1137.5 1134.0,1131.8 1139.9,1180.1 1145.8,1178.4 1151.7,1194.0 1157.6,1197.4 1163.5,1198.6 1169.4,1152.5 1175.3,1180.0 1181.2,1133.0 1187.0,1141.0 1192.9,1218.0 1198.8,1220.6 1198.8,1221.5" fill="#1d3d73"/>
<polygon points="67.0,1221.5 67.0,932.0 72.9,1112.5 78.8,1141.0 84.7,1141.0 90.6,1173.0 96.5,1094.0 102.4,1075.0 108.3,1057.5 114.2,1080.0 120.1,1056.2 125.9,1033.7 131.8,1056.2 137.7,1065.0 143.6,1062.5 149.5,1031.2 155.4,988.7 161.3,962.5 167.2,978.7 173.1,1002.5 179.0,1042.5 184.9,1050.0 190.8,1060.0 196.7,1074.0 202.6,1094.0 208.5,1095.6 214.4,1076.5 220.3,1045.0 226.2,1009.0 232.1,1011.0 238.0,978.7 243.8,1074.5 249.7,1100.5 255.6,1078.0 261.5,1103.7 267.4,1139.0 273.3,1197.5 279.2,1193.5 285.1,1220.3 291.0,1192.5 296.9,1185.0 302.8,1170.0 308.7,1171.0 314.6,1148.7 320.5,1100.0 326.4,1085.0 332.3,1139.0 338.2,1100.0 344.1,1105.0 350.0,1156.2 355.9,1138.3 361.8,1144.6 367.6,1160.8 373.5,1106.8 379.4,1126.8 385.3,1142.3 391.2,1141.8 397.1,1142.3 403.0,1139.3 408.9,1136.8 414.8,1109.9 420.7,1115.5 426.6,1114.9 432.5,1096.2 438.4,1089.9 444.3,1075.5 450.2,1078.0 456.1,1088.0 462.0,1131.8 467.9,1146.8 473.8,1161.8 479.6,1202.5 485.5,1209.4 491.4,1211.9 497.3,1214.4 503.2,1213.7 509.1,1216.5 515.0,1205.0 520.9,1213.0 526.8,1218.0 532.7,1211.5 538.6,1214.0 544.5,1216.0 550.4,1217.2 556.3,1216.6 562.2,1218.4 568.1,1214.6 574.0,1210.2 579.9,1207.7 585.8,1215.0 591.7,1214.0 597.5,1217.0 603.4,1216.2 609.3,1210.5 615.2,1217.5 621.1,1218.1 627.0,1215.6 632.9,1214.4 638.8,1213.7 644.7,1210.0 650.6,1211.0 656.5,1217.0 662.4,1218.7 668.3,1216.7 674.2,1211.4 680.1,1215.7 686.0,1209.7 691.9,1214.4 697.8,1214.4 703.7,1214.4 709.6,1205.0 715.4,1199.0 721.3,1215.7 727.2,1213.7 733.1,1215.7 739.0,1209.0 744.9,1213.0 750.8,1211.7 756.7,1211.7 762.6,1211.7 768.5,1208.4 774.4,1209.7 780.3,1204.0 786.2,1206.0 792.1,1203.0 798.0,1206.2 803.9,1196.9 809.8,1205.0 815.7,1206.2 821.6,1204.4 827.5,1204.4 833.3,1193.7 839.2,1188.1 845.1,1185.6 851.0,1203.7 856.9,1185.0 862.8,1182.5 868.7,1193.7 874.6,1165.0 880.5,1178.7 886.4,1162.5 892.3,1167.5 898.2,1180.0 904.1,1165.0 910.0,1181.2 915.9,1182.5 921.8,1196.2 927.7,1195.0 933.6,1190.0 939.5,1180.6 945.4,1188.1 951.2,1203.1 957.1,1187.5 963.0,1175.0 968.9,1171.2 974.8,1170.6 980.7,1180.0 986.6,1188.1 992.5,1183.7 998.4,1177.5 1004.3,1170.0 1010.2,1163.1 1016.1,1165.0 1022.0,1185.0 1027.9,1200.0 1033.8,1196.2 1039.7,1205.0 1045.6,1206.2 1051.5,1202.5 1057.4,1200.6 1063.3,1198.7 1069.2,1181.0 1075.0,1170.0 1080.9,1184.7 1086.8,1180.0 1092.7,1138.7 1098.6,1162.0 1104.5,1179.0 1110.4,1166.3 1116.3,1164.0 1122.2,1180.7 1128.1,1137.5 1134.0,1131.8 1139.9,1180.1 1145.8,1178.4 1151.7,1194.0 1157.6,1197.4 1163.5,1198.6 1169.4,1152.5 1175.3,1180.0 1181.2,1133.0 1187.0,1141.0 1192.9,1218.0 1198.8,1220.6 1198.8,1221.5" fill="#7cc36f"/>
<polygon points="67.0,1221.5 67.0,932.0 72.9,1112.5 78.8,1141.0 84.7,1141.0 90.6,1175.0 96.5,1094.0 102.4,1075.0 108.3,1067.5 114.2,1103.7 120.1,1093.7 125.9,1062.5 131.8,1093.7 137.7,1101.2 143.6,1112.5 149.5,1115.0 155.4,1106.2 161.3,1109.4 167.2,1104.4 173.1,1105.6 179.0,1113.1 184.9,1090.0 190.8,1096.2 196.7,1101.9 202.6,1100.0 208.5,1095.6 214.4,1076.5 220.3,1045.0 226.2,1010.0 232.1,1018.0 238.0,995.0 243.8,1074.5 249.7,1101.5 255.6,1091.0 261.5,1104.0 267.4,1139.0 273.3,1199.0 279.2,1193.5 285.1,1220.3 291.0,1193.7 296.9,1186.0 302.8,1184.0 308.7,1174.0 314.6,1150.0 320.5,1122.0 326.4,1097.0 332.3,1195.0 338.2,1111.2 344.1,1121.0 350.0,1157.0 355.9,1138.5 361.8,1144.8 367.6,1161.0 373.5,1107.5 379.4,1127.5 385.3,1143.0 391.2,1142.5 397.1,1143.0 403.0,1140.0 408.9,1137.5 414.8,1110.6 420.7,1116.2 426.6,1115.6 432.5,1096.9 438.4,1090.6 444.3,1076.2 450.2,1078.7 456.1,1088.7 462.0,1132.5 467.9,1147.5 473.8,1162.5 479.6,1202.5 485.5,1209.4 491.4,1211.9 497.3,1214.4 503.2,1213.7 509.1,1216.5 515.0,1205.0 520.9,1213.0 526.8,1218.0 532.7,1211.5 538.6,1214.0 544.5,1216.0 550.4,1217.2 556.3,1216.6 562.2,1218.4 568.1,1214.6 574.0,1210.2 579.9,1207.7 585.8,1215.0 591.7,1214.0 597.5,1217.0 603.4,1216.2 609.3,1211.5 615.2,1217.5 621.1,1218.1 627.0,1215.6 632.9,1214.4 638.8,1213.7 644.7,1210.0 650.6,1211.0 656.5,1217.0 662.4,1218.7 668.3,1216.7 674.2,1211.4 680.1,1215.7 686.0,1209.7 691.9,1214.4 697.8,1214.4 703.7,1214.4 709.6,1205.0 715.4,1199.0 721.3,1215.7 727.2,1213.7 733.1,1215.7 739.0,1209.0 744.9,1213.0 750.8,1211.7 756.7,1211.7 762.6,1211.7 768.5,1208.4 774.4,1209.7 780.3,1204.0 786.2,1206.0 792.1,1203.0 798.0,1206.2 803.9,1197.5 809.8,1205.0 815.7,1206.2 821.6,1204.4 827.5,1204.4 833.3,1193.7 839.2,1188.1 845.1,1185.6 851.0,1203.7 856.9,1185.0 862.8,1182.5 868.7,1193.7 874.6,1165.0 880.5,1178.7 886.4,1162.5 892.3,1167.5 898.2,1180.0 904.1,1165.0 910.0,1181.2 915.9,1182.5 921.8,1196.2 927.7,1195.0 933.6,1190.0 939.5,1180.6 945.4,1188.1 951.2,1203.1 957.1,1187.5 963.0,1175.0 968.9,1171.2 974.8,1170.6 980.7,1180.0 986.6,1188.1 992.5,1183.7 998.4,1177.5 1004.3,1170.0 1010.2,1168.1 1016.1,1167.5 1022.0,1185.0 1027.9,1200.0 1033.8,1196.2 1039.7,1205.0 1045.6,1206.2 1051.5,1202.5 1057.4,1200.6 1063.3,1198.7 1069.2,1181.0 1075.0,1172.5 1080.9,1194.0 1086.8,1183.6 1092.7,1147.9 1098.6,1166.0 1104.5,1185.9 1110.4,1174.4 1116.3,1183.6 1122.2,1190.5 1128.1,1174.4 1134.0,1172.1 1139.9,1198.6 1145.8,1189.4 1151.7,1197.4 1157.6,1204.3 1163.5,1212.4 1169.4,1164.0 1175.3,1183.6 1181.2,1157.1 1187.0,1154.8 1192.9,1218.5 1198.8,1220.6 1198.8,1221.5" fill="#679fd7"/>
<polygon points="67.0,1221.5 67.0,932.0 72.9,1115.0 78.8,1145.0 84.7,1170.0 90.6,1192.0 96.5,1167.5 102.4,1139.4 108.3,1134.4 114.2,1171.2 120.1,1171.2 125.9,1162.5 131.8,1168.1 137.7,1165.6 143.6,1175.0 149.5,1162.5 155.4,1165.0 161.3,1146.9 167.2,1140.0 173.1,1131.9 179.0,1132.5 184.9,1102.5 190.8,1111.9 196.7,1103.1 202.6,1102.5 208.5,1096.2 214.4,1077.0 220.3,1047.6 226.2,1024.4 232.1,1025.6 238.0,998.7 243.8,1075.0 249.7,1102.5 255.6,1092.0 261.5,1105.0 267.4,1140.0 273.3,1200.0 279.2,1193.7 285.1,1220.3 291.0,1195.0 296.9,1187.5 302.8,1185.0 308.7,1175.0 314.6,1151.2 320.5,1122.5 326.4,1097.5 332.3,1195.0 338.2,1117.5 344.1,1122.5 350.0,1157.5 355.9,1138.7 361.8,1145.0 367.6,1161.2 373.5,1108.7 379.4,1128.7 385.3,1152.5 391.2,1155.0 397.1,1157.5 403.0,1155.0 408.9,1175.0 414.8,1161.2 420.7,1177.5 426.6,1182.5 432.5,1188.7 438.4,1161.2 444.3,1170.0 450.2,1165.0 456.1,1165.0 462.0,1183.7 467.9,1182.5 473.8,1177.5 479.6,1203.7 485.5,1209.4 491.4,1211.9 497.3,1214.4 503.2,1213.7 509.1,1216.5 515.0,1205.0 520.9,1213.0 526.8,1218.0 532.7,1211.5 538.6,1214.0 544.5,1216.0 550.4,1217.2 556.3,1216.6 562.2,1218.4 568.1,1214.6 574.0,1210.2 579.9,1207.7 585.8,1215.0 591.7,1214.0 597.5,1217.0 603.4,1216.2 609.3,1213.0 615.2,1217.5 621.1,1218.1 627.0,1215.6 632.9,1214.4 638.8,1213.7 644.7,1210.0 650.6,1211.0 656.5,1217.0 662.4,1218.7 668.3,1216.7 674.2,1211.4 680.1,1215.7 686.0,1209.7 691.9,1214.4 697.8,1214.4 703.7,1214.4 709.6,1205.0 715.4,1199.0 721.3,1215.7 727.2,1213.7 733.1,1215.7 739.0,1209.0 744.9,1213.0 750.8,1211.7 756.7,1211.7 762.6,1211.7 768.5,1208.4 774.4,1209.7 780.3,1204.0 786.2,1206.0 792.1,1203.0 798.0,1206.2 803.9,1198.0 809.8,1205.0 815.7,1206.2 821.6,1204.4 827.5,1204.4 833.3,1193.7 839.2,1188.1 845.1,1185.6 851.0,1203.7 856.9,1185.6 862.8,1182.5 868.7,1193.7 874.6,1165.0 880.5,1178.7 886.4,1162.5 892.3,1167.5 898.2,1180.0 904.1,1165.0 910.0,1181.2 915.9,1182.5 921.8,1196.2 927.7,1195.0 933.6,1190.0 939.5,1180.6 945.4,1188.1 951.2,1203.1 957.1,1187.5 963.0,1175.0 968.9,1171.2 974.8,1170.6 980.7,1180.0 986.6,1188.1 992.5,1183.7 998.4,1177.5 1004.3,1170.0 1010.2,1168.1 1016.1,1167.5 1022.0,1185.0 1027.9,1200.0 1033.8,1196.2 1039.7,1205.0 1045.6,1206.2 1051.5,1202.5 1057.4,1200.6 1063.3,1198.7 1069.2,1181.0 1075.0,1172.5 1080.9,1194.0 1086.8,1183.6 1092.7,1147.9 1098.6,1166.0 1104.5,1185.9 1110.4,1174.4 1116.3,1183.6 1122.2,1190.5 1128.1,1174.4 1134.0,1172.1 1139.9,1198.6 1145.8,1189.4 1151.7,1197.4 1157.6,1204.3 1163.5,1212.4 1169.4,1164.0 1175.3,1183.6 1181.2,1157.1 1187.0,1154.8 1192.9,1218.5 1198.8,1220.6 1198.8,1221.5" fill="#fbbb2d"/>
<polygon points="67.0,1221.5 67.0,1127.5 72.9,1190.0 78.8,1205.0 84.7,1198.0 90.6,1217.5 96.5,1187.5 102.4,1160.0 108.3,1153.1 114.2,1180.6 120.1,1181.2 125.9,1172.5 131.8,1175.0 137.7,1172.5 143.6,1181.2 149.5,1171.2 155.4,1173.7 161.3,1161.2 167.2,1156.2 173.1,1155.0 179.0,1157.5 184.9,1130.6 190.8,1145.0 196.7,1145.6 202.6,1146.9 208.5,1143.1 214.4,1147.5 220.3,1151.2 226.2,1092.5 232.1,1086.2 238.0,1072.0 243.8,1140.0 249.7,1136.2 255.6,1134.4 261.5,1142.5 267.4,1162.5 273.3,1213.0 279.2,1216.0 285.1,1220.3 291.0,1196.0 296.9,1192.5 302.8,1192.0 308.7,1200.0 314.6,1182.5 320.5,1167.5 326.4,1115.0 332.3,1195.0 338.2,1157.5 344.1,1166.0 350.0,1186.0 355.9,1181.2 361.8,1182.5 367.6,1188.7 373.5,1152.5 379.4,1166.2 385.3,1185.0 391.2,1176.2 397.1,1176.2 403.0,1171.2 408.9,1183.7 414.8,1175.0 420.7,1183.7 426.6,1185.0 432.5,1190.0 438.4,1162.5 444.3,1173.7 450.2,1170.6 456.1,1170.0 462.0,1185.0 467.9,1185.0 473.8,1181.2 479.6,1205.0 485.5,1210.0 491.4,1212.5 497.3,1215.0 503.2,1214.4 509.1,1216.5 515.0,1205.0 520.9,1214.0 526.8,1219.0 532.7,1211.5 538.6,1214.0 544.5,1216.0 550.4,1217.2 556.3,1216.6 562.2,1218.4 568.1,1214.6 574.0,1210.2 579.9,1207.7 585.8,1215.0 591.7,1215.6 597.5,1217.0 603.4,1216.2 609.3,1215.0 615.2,1217.5 621.1,1218.1 627.0,1215.6 632.9,1214.4 638.8,1213.7 644.7,1212.0 650.6,1212.5 656.5,1217.0 662.4,1218.7 668.3,1216.7 674.2,1211.4 680.1,1215.7 686.0,1209.7 691.9,1214.4 697.8,1214.4 703.7,1214.4 709.6,1205.0 715.4,1199.0 721.3,1215.7 727.2,1213.7 733.1,1215.7 739.0,1209.7 744.9,1213.0 750.8,1211.7 756.7,1211.7 762.6,1211.7 768.5,1208.4 774.4,1209.7 780.3,1205.0 786.2,1207.7 792.1,1203.7 798.0,1207.5 803.9,1200.5 809.8,1206.2 815.7,1208.7 821.6,1206.2 827.5,1208.7 833.3,1199.5 839.2,1199.5 845.1,1200.5 851.0,1209.4 856.9,1200.5 862.8,1201.0 868.7,1208.7 874.6,1187.5 880.5,1202.0 886.4,1194.0 892.3,1197.0 898.2,1200.5 904.1,1201.0 910.0,1207.5 915.9,1207.5 921.8,1209.0 927.7,1205.0 933.6,1202.5 939.5,1195.0 945.4,1197.0 951.2,1210.0 957.1,1201.0 963.0,1189.0 968.9,1176.2 974.8,1175.6 980.7,1191.0 986.6,1202.0 992.5,1198.0 998.4,1193.7 1004.3,1184.4 1010.2,1184.4 1016.1,1187.5 1022.0,1196.0 1027.9,1209.0 1033.8,1205.0 1039.7,1207.5 1045.6,1208.7 1051.5,1206.2 1057.4,1205.6 1063.3,1205.6 1069.2,1191.2 1075.0,1186.2 1080.9,1202.0 1086.8,1189.4 1092.7,1156.0 1098.6,1169.0 1104.5,1187.0 1110.4,1181.3 1116.3,1189.4 1122.2,1194.0 1128.1,1180.1 1134.0,1189.4 1139.9,1199.7 1145.8,1195.1 1151.7,1207.8 1157.6,1213.5 1163.5,1212.4 1169.4,1194.0 1175.3,1200.9 1181.2,1180.1 1187.0,1183.6 1192.9,1219.0 1198.8,1220.6 1198.8,1221.5" fill="#a6adc1"/>
<polygon points="67.0,1221.5 67.0,1127.5 72.9,1190.0 78.8,1205.0 84.7,1200.0 90.6,1217.5 96.5,1198.7 102.4,1172.5 108.3,1166.9 114.2,1190.6 120.1,1195.0 125.9,1186.9 131.8,1188.7 137.7,1192.5 143.6,1198.7 149.5,1195.0 155.4,1193.7 161.3,1183.7 167.2,1181.9 173.1,1186.9 179.0,1186.2 184.9,1166.2 190.8,1176.2 196.7,1171.2 202.6,1175.0 208.5,1171.2 214.4,1175.0 220.3,1185.6 226.2,1157.5 232.1,1140.0 238.0,1108.7 243.8,1163.0 249.7,1161.9 255.6,1156.2 261.5,1161.2 267.4,1181.2 273.3,1217.5 279.2,1216.0 285.1,1220.3 291.0,1200.0 296.9,1196.9 302.8,1200.0 308.7,1205.0 314.6,1187.5 320.5,1168.7 326.4,1128.7 332.3,1196.2 338.2,1160.0 344.1,1167.5 350.0,1187.5 355.9,1185.0 361.8,1187.5 367.6,1192.5 373.5,1167.5 379.4,1175.0 385.3,1197.5 391.2,1190.0 397.1,1188.7 403.0,1186.2 408.9,1196.2 414.8,1191.2 420.7,1196.9 426.6,1198.1 432.5,1207.5 438.4,1188.7 444.3,1195.0 450.2,1196.9 456.1,1196.2 462.0,1201.2 467.9,1195.6 473.8,1191.2 479.6,1207.5 485.5,1210.6 491.4,1213.7 497.3,1215.6 503.2,1215.0 509.1,1216.5 515.0,1205.0 520.9,1214.0 526.8,1219.0 532.7,1211.5 538.6,1214.0 544.5,1216.0 550.4,1217.2 556.3,1216.6 562.2,1218.4 568.1,1214.6 574.0,1210.2 579.9,1207.7 585.8,1215.0 591.7,1215.6 597.5,1217.0 603.4,1216.2 609.3,1216.9 615.2,1217.5 621.1,1218.1 627.0,1215.6 632.9,1214.4 638.8,1213.7 644.7,1213.1 650.6,1212.5 656.5,1217.0 662.4,1218.7 668.3,1216.7 674.2,1211.4 680.1,1215.7 686.0,1209.7 691.9,1214.4 697.8,1214.4 703.7,1214.4 709.6,1205.0 715.4,1199.0 721.3,1215.7 727.2,1213.7 733.1,1215.7 739.0,1209.7 744.9,1213.0 750.8,1211.7 756.7,1211.7 762.6,1211.7 768.5,1208.4 774.4,1209.7 780.3,1205.0 786.2,1207.7 792.1,1203.7 798.0,1207.5 803.9,1201.9 809.8,1206.2 815.7,1208.7 821.6,1206.2 827.5,1208.7 833.3,1201.2 839.2,1201.2 845.1,1201.9 851.0,1209.4 856.9,1202.5 862.8,1202.5 868.7,1208.7 874.6,1187.5 880.5,1203.1 886.4,1195.0 892.3,1198.1 898.2,1201.9 904.1,1202.5 910.0,1208.7 915.9,1208.7 921.8,1210.0 927.7,1206.2 933.6,1203.7 939.5,1195.6 945.4,1197.5 951.2,1210.6 957.1,1201.9 963.0,1190.0 968.9,1178.7 974.8,1178.1 980.7,1192.5 986.6,1203.1 992.5,1199.4 998.4,1196.2 1004.3,1186.9 1010.2,1186.9 1016.1,1191.2 1022.0,1198.1 1027.9,1210.0 1033.8,1206.2 1039.7,1210.0 1045.6,1211.2 1051.5,1208.7 1057.4,1208.1 1063.3,1209.0 1069.2,1195.0 1075.0,1194.4 1080.9,1203.2 1086.8,1197.4 1092.7,1166.3 1098.6,1173.2 1104.5,1195.7 1110.4,1192.8 1116.3,1196.8 1122.2,1200.9 1128.1,1195.1 1134.0,1202.0 1139.9,1213.5 1145.8,1211.2 1151.7,1219.3 1157.6,1217.0 1163.5,1213.5 1169.4,1212.4 1175.3,1211.2 1181.2,1198.6 1187.0,1197.4 1192.9,1219.2 1198.8,1220.6 1198.8,1221.5" fill="#f0843b"/>
<polygon points="67.0,1221.5 67.0,1173.7 72.9,1208.1 78.8,1216.9 84.7,1215.6 90.6,1217.5 96.5,1205.0 102.4,1191.9 108.3,1177.5 114.2,1200.0 120.1,1202.5 125.9,1199.4 131.8,1195.6 137.7,1198.7 143.6,1200.0 149.5,1201.9 155.4,1198.7 161.3,1188.1 167.2,1185.0 173.1,1191.9 179.0,1192.5 184.9,1171.2 190.8,1185.6 196.7,1175.0 202.6,1183.7 208.5,1185.0 214.4,1187.5 220.3,1190.0 226.2,1172.5 232.1,1155.0 238.0,1130.0 243.8,1191.9 249.7,1169.4 255.6,1170.6 261.5,1173.7 267.4,1187.5 273.3,1220.6 279.2,1216.9 285.1,1220.6 291.0,1210.0 296.9,1201.2 302.8,1207.5 308.7,1218.0 314.6,1207.5 320.5,1194.4 326.4,1201.2 332.3,1208.7 338.2,1201.9 344.1,1202.5 350.0,1215.0 355.9,1213.1 361.8,1213.7 367.6,1210.0 373.5,1190.0 379.4,1195.6 385.3,1207.5 391.2,1198.7 397.1,1195.0 403.0,1198.0 408.9,1202.5 414.8,1198.7 420.7,1203.7 426.6,1205.6 432.5,1210.0 438.4,1198.7 444.3,1200.6 450.2,1203.0 456.1,1200.6 462.0,1205.6 467.9,1199.4 473.8,1193.0 479.6,1209.4 485.5,1211.2 491.4,1215.0 497.3,1216.2 503.2,1215.6 509.1,1217.5 515.0,1205.6 520.9,1215.0 526.8,1219.4 532.7,1211.9 538.6,1214.4 544.5,1216.2 550.4,1217.5 556.3,1216.9 562.2,1218.7 568.1,1215.0 574.0,1210.6 579.9,1208.1 585.8,1215.6 591.7,1216.2 597.5,1217.5 603.4,1217.5 609.3,1218.1 615.2,1218.5 621.1,1218.7 627.0,1217.5 632.9,1216.9 638.8,1217.5 644.7,1214.4 650.6,1215.6 656.5,1217.7 662.4,1219.0 668.3,1217.0 674.2,1211.7 680.1,1219.0 686.0,1216.4 691.9,1217.7 697.8,1217.0 703.7,1215.7 709.6,1207.0 715.4,1199.7 721.3,1217.7 727.2,1217.0 733.1,1218.4 739.0,1213.7 744.9,1218.4 750.8,1217.0 756.7,1214.4 762.6,1213.0 768.5,1211.0 774.4,1211.7 780.3,1209.7 786.2,1213.0 792.1,1216.9 798.0,1215.0 803.9,1209.4 809.8,1217.5 815.7,1215.0 821.6,1214.4 827.5,1216.2 833.3,1208.7 839.2,1211.2 845.1,1215.0 851.0,1215.6 856.9,1211.2 862.8,1211.9 868.7,1218.7 874.6,1213.1 880.5,1217.5 886.4,1216.2 892.3,1215.0 898.2,1215.0 904.1,1215.6 910.0,1216.2 915.9,1216.2 921.8,1216.2 927.7,1213.7 933.6,1213.7 939.5,1213.1 945.4,1211.9 951.2,1218.7 957.1,1214.4 963.0,1202.5 968.9,1195.0 974.8,1195.0 980.7,1205.0 986.6,1215.0 992.5,1211.9 998.4,1210.0 1004.3,1206.2 1010.2,1205.0 1016.1,1208.7 1022.0,1208.7 1027.9,1217.5 1033.8,1210.6 1039.7,1213.1 1045.6,1215.0 1051.5,1213.7 1057.4,1211.2 1063.3,1215.0 1069.2,1203.7 1075.0,1206.2 1080.9,1212.4 1086.8,1206.0 1092.7,1189.9 1098.6,1187.0 1104.5,1206.6 1110.4,1207.2 1116.3,1210.0 1122.2,1213.0 1128.1,1208.4 1134.0,1211.2 1139.9,1214.7 1145.8,1213.5 1151.7,1220.4 1157.6,1219.3 1163.5,1215.8 1169.4,1214.7 1175.3,1214.7 1181.2,1205.5 1187.0,1209.0 1192.9,1219.5 1198.8,1220.8 1198.8,1221.5" fill="#4f79bf"/>
<text x="99" y="1240.5" text-anchor="middle" font-family='"Liberation Sans", sans-serif' class="r" font-size="14.6" fill="#333">2019</text>
<text x="176" y="1240.5" text-anchor="middle" font-family='"Liberation Sans", sans-serif' class="r" font-size="14.6" fill="#333">Apr.</text>
<text x="253" y="1240.5" text-anchor="middle" font-family='"Liberation Sans", sans-serif' class="r" font-size="14.6" fill="#333">Jul.</text>
<text x="330.5" y="1240.5" text-anchor="middle" font-family='"Liberation Sans", sans-serif' class="r" font-size="14.6" fill="#333">Oct.</text>
<text x="407.5" y="1240.5" text-anchor="middle" font-family='"Liberation Sans", sans-serif' class="r" font-size="14.6" fill="#333">2020</text>
<text x="484.5" y="1240.5" text-anchor="middle" font-family='"Liberation Sans", sans-serif' class="r" font-size="14.6" fill="#333">Apr.</text>
<text x="561" y="1240.5" text-anchor="middle" font-family='"Liberation Sans", sans-serif' class="r" font-size="14.6" fill="#333">Jul.</text>
<text x="638.5" y="1240.5" text-anchor="middle" font-family='"Liberation Sans", sans-serif' class="r" font-size="14.6" fill="#333">Oct.</text>
<text x="715.2" y="1240.5" text-anchor="middle" font-family='"Liberation Sans", sans-serif' class="r" font-size="14.6" fill="#333">2021</text>
<text x="792.2" y="1240.5" text-anchor="middle" font-family='"Liberation Sans", sans-serif' class="r" font-size="14.6" fill="#333">Apr.</text>
<text x="868.9" y="1240.5" text-anchor="middle" font-family='"Liberation Sans", sans-serif' class="r" font-size="14.6" fill="#333">Jul.</text>
<text x="946.1" y="1240.5" text-anchor="middle" font-family='"Liberation Sans", sans-serif' class="r" font-size="14.6" fill="#333">Oct.</text>
<text x="1023.1" y="1240.5" text-anchor="middle" font-family='"Liberation Sans", sans-serif' class="r" font-size="14.6" fill="#333">2022</text>
<text x="1100.1" y="1240.5" text-anchor="middle" font-family='"Liberation Sans", sans-serif' class="r" font-size="14.6" fill="#333">Apr.</text>
<text x="1176.7" y="1240.5" text-anchor="middle" font-family='"Liberation Sans", sans-serif' class="r" font-size="14.6" fill="#333">Jul.</text>
<text x="638.5" y="1269.6" text-anchor="middle" font-family='"Liberation Sans", sans-serif' class="r" font-size="17.6" fill="#333">Date</text>
<text transform="translate(14.2,952) rotate(-90)" text-anchor="middle" font-family='"Liberation Sans", sans-serif' class="r" font-size="15.8" fill="#333">Prevalence (%)</text>
<rect x="67.5" y="1286.7" width="1126.5" height="102.8" fill="#fff" stroke="#8c8c8c" stroke-width="1.2"/>
<rect x="84" y="1301.1" width="26.4" height="19.6" fill="#4f79bf"/>
<text x="117.9" y="1318.3" font-family='"Liberation Sans", sans-serif' class="r" font-size="17.6" textLength="85.1" lengthAdjust="spacingAndGlyphs" fill="#231f20">Adenovirus</text>
<rect x="84" y="1327.8" width="26.4" height="19.6" fill="#679fd7"/>
<text x="117.9" y="1345.0" font-family='"Liberation Sans", sans-serif' class="r" font-size="17.6" textLength="231.5" lengthAdjust="spacingAndGlyphs" fill="#231f20">Influenza A(H1N1)pdm09 virus</text>
<rect x="84" y="1354.5" width="26.4" height="19.6" fill="#9e57a0"/>
<text x="117.9" y="1371.7" font-family='"Liberation Sans", sans-serif' class="r" font-size="17.6" textLength="213.5" lengthAdjust="spacingAndGlyphs" fill="#231f20">Respiratory syncytial virus B</text>
<rect x="389.6" y="1301.1" width="26.4" height="19.6" fill="#f0843b"/>
<text x="425.9" y="1318.3" font-family='"Liberation Sans", sans-serif' class="r" font-size="17.6" textLength="86.0" lengthAdjust="spacingAndGlyphs" fill="#231f20">Enterovirus</text>
<rect x="389.6" y="1327.8" width="26.4" height="19.6" fill="#7cc36f"/>
<text x="425.9" y="1345.0" font-family='"Liberation Sans", sans-serif' class="r" font-size="17.6" textLength="179.5" lengthAdjust="spacingAndGlyphs" fill="#231f20">Influenza A(H3N2) virus</text>
<rect x="389.6" y="1354.5" width="26.4" height="19.6" fill="#f3d98e"/>
<text x="425.9" y="1371.7" font-family='"Liberation Sans", sans-serif' class="r" font-size="17.6" textLength="80.3" lengthAdjust="spacingAndGlyphs" fill="#231f20">Rhinovirus</text>
<rect x="642.5" y="1301.1" width="26.4" height="19.6" fill="#a6adc1"/>
<text x="678.2" y="1318.3" font-family='"Liberation Sans", sans-serif' class="r" font-size="17.6" textLength="194.7" lengthAdjust="spacingAndGlyphs" fill="#231f20">Human metapneumovirus</text>
<rect x="642.5" y="1327.8" width="26.4" height="19.6" fill="#1d3d73"/>
<text x="678.2" y="1345.0" font-family='"Liberation Sans", sans-serif' class="r" font-size="17.6" textLength="125.7" lengthAdjust="spacingAndGlyphs" fill="#231f20">Influenza B virus</text>
<rect x="642.5" y="1354.5" width="26.4" height="19.6" fill="#03b2b5"/>
<text x="678.2" y="1371.7" font-family='"Liberation Sans", sans-serif' class="r" font-size="17.6" textLength="217.0" lengthAdjust="spacingAndGlyphs" fill="#231f20">Seasonal human coronavirus</text>
<rect x="935.8" y="1301.1" width="26.4" height="19.6" fill="#fbbb2d"/>
<text x="969.8" y="1318.3" font-family='"Liberation Sans", sans-serif' class="r" font-size="17.6" textLength="202.2" lengthAdjust="spacingAndGlyphs" fill="#231f20">Human parainfluenza virus</text>
<rect x="935.8" y="1327.8" width="26.4" height="19.6" fill="#e06b6a"/>
<text x="969.8" y="1345.0" font-family='"Liberation Sans", sans-serif' class="r" font-size="17.6" textLength="212.6" lengthAdjust="spacingAndGlyphs" fill="#231f20">Respiratory syncytial virus A</text>
<rect x="935.8" y="1354.5" width="26.4" height="19.6" fill="#23773b"/>
<text x="969.8" y="1371.7" font-family='"Liberation Sans", sans-serif' class="r" font-size="17.6" textLength="99.2" lengthAdjust="spacingAndGlyphs" fill="#231f20">SARS-CoV-2</text>
</svg>
</body></html>
